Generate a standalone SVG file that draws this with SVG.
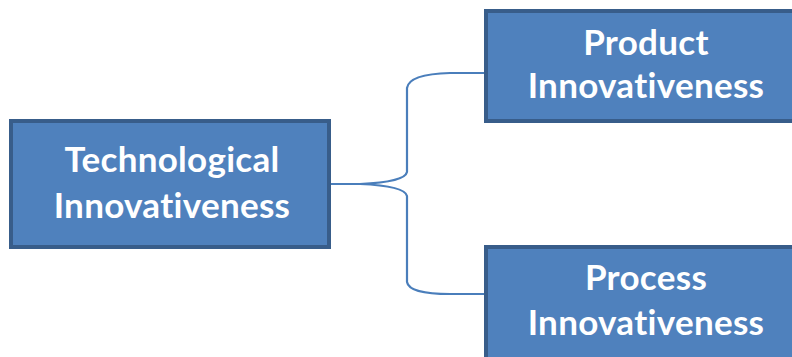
<svg xmlns="http://www.w3.org/2000/svg" width="792" height="357" viewBox="0 0 792 357">
<style>
.box{fill:#4F81BD;stroke:#385D8A;stroke-width:4}
.t{font-family:"Lato","Open Sans",sans-serif;font-weight:bold;font-size:35px;fill:#FFFFFF;text-anchor:middle;font-variant-ligatures:none;letter-spacing:0.3px}
.c{fill:none;stroke:#4A7EBB;stroke-width:2.2}
</style>
<rect width="792" height="357" fill="#FFFFFF"/>
<g id="connectors">
<path class="c" d="M330,184 L360,184 Q405,182 407,172 L407,88 Q409,74 450,73 L485,73"/>
<path class="c" d="M330,184 L360,184 Q405,186 407,196 L407,282 Q409,294 450,294 L485,294"/>
</g>
<g id="tech">
<rect class="box" x="11" y="121" width="318" height="126"/>
<text class="t" x="172" y="172">Technological</text>
<text class="t" x="172" y="218">Innovativeness</text>
</g>
<g id="product">
<rect class="box" x="486" y="11" width="318" height="110"/>
<text class="t" x="646" y="55">Product</text>
<text class="t" x="646" y="98">Innovativeness</text>
</g>
<g id="process">
<rect class="box" x="486" y="247" width="318" height="120"/>
<text class="t" x="646" y="290">Process</text>
<text class="t" x="646" y="335">Innovativeness</text>
</g>
</svg>
